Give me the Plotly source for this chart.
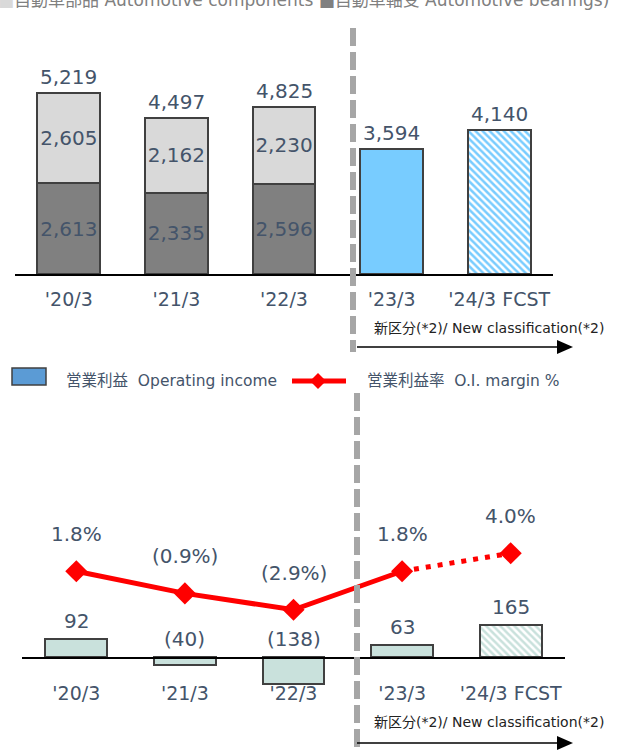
import plotly.graph_objects as go

# ---------------- data ----------------
categories = ["'20/3", "'21/3", "'22/3", "'23/3", "'24/3 FCST"]
bearings = [2613, 2335, 2596, None, None]          # 自動車軸受 Automotive bearings
components = [2605, 2162, 2230, None, None]        # 自動車部品 Automotive components
new_class = [None, None, None, 3594, 4140]         # 新区分 New classification
sales_totals = [5219, 4497, 4825, 3594, 4140]
op_income = [92, -40, -138, 63, 165]
oi_margin = [1.8, -0.9, -2.9, 1.8, 4.0]

W, H = 632, 750
SLATE = "#44546a"
FONT = "DejaVu Sans, Noto Sans CJK JP"


def px(x):
    return x / W


def py(y):
    return 1 - y / H


def fmt_num(v):
    return f"{v:,}" if v >= 0 else f"({abs(v):,})"


def fmt_pct(v):
    return f"{v:.1f}%" if v >= 0 else f"({abs(v):.1f}%)"


fig = go.Figure()

# ---------------- top chart ----------------
bar_line = dict(color="#404040", width=2)
fig.add_trace(go.Bar(
    x=categories, y=bearings, width=0.585,
    marker=dict(color="#808080", line=bar_line),
    texttemplate="%{y:,}", textposition="inside", insidetextanchor="middle",
    constraintext="none", textangle=0,
    textfont=dict(size=20, color=SLATE, family=FONT),
    xaxis="x", yaxis="y", hoverinfo="skip"))
fig.add_trace(go.Bar(
    x=categories, y=components, width=0.585,
    marker=dict(color="#d9d9d9", line=bar_line),
    texttemplate="%{y:,}", textposition="inside", insidetextanchor="middle",
    constraintext="none", textangle=0,
    textfont=dict(size=20, color=SLATE, family=FONT),
    xaxis="x", yaxis="y", hoverinfo="skip"))
fig.add_trace(go.Bar(
    x=categories, y=new_class, width=0.585,
    marker=dict(color="#78ccff", line=bar_line,
                pattern=dict(shape=["", "", "", "", "\\"], fgcolor="#78ccff",
                             bgcolor="white", size=5, solidity=0.5, fillmode="replace")),
    xaxis="x", yaxis="y", hoverinfo="skip"))

annotations = []
for c, t in zip(categories, sales_totals):
    annotations.append(dict(x=c, y=t, xref="x", yref="y", text=f"{t:,}", showarrow=False,
                            yshift=16, yanchor="middle",
                            font=dict(size=20, color=SLATE, family=FONT)))

# ---------------- bottom chart ----------------
fig.add_trace(go.Bar(
    x=categories, y=op_income, width=0.57,
    marker=dict(color="#c9e1dc", line=bar_line,
                pattern=dict(shape=["", "", "", "", "\\"], fgcolor="#c9e1dc",
                             bgcolor="white", size=5, solidity=0.5, fillmode="replace")),
    xaxis="x2", yaxis="y2", hoverinfo="skip"))

for c, v in zip(categories, op_income):
    annotations.append(dict(x=c, y=max(v, 0), xref="x2", yref="y2", text=fmt_num(v),
                            showarrow=False, yshift=18, yanchor="middle",
                            font=dict(size=20, color=SLATE, family=FONT)))

fig.add_trace(go.Scatter(
    x=categories[:4], y=oi_margin[:4], mode="lines",
    line=dict(color="#ff0000", width=5),
    xaxis="x2", yaxis="y3", hoverinfo="skip"))
fig.add_trace(go.Scatter(
    x=categories[3:], y=oi_margin[3:], mode="lines",
    line=dict(color="#ff0000", width=5, dash="5px,7px"),
    xaxis="x2", yaxis="y3", hoverinfo="skip"))
fig.add_trace(go.Scatter(
    x=categories, y=oi_margin, mode="markers",
    marker=dict(symbol="diamond", size=17, color="#ff0000"),
    xaxis="x2", yaxis="y3", hoverinfo="skip"))

for c, v in zip(categories, oi_margin):
    annotations.append(dict(x=c, y=v, xref="x2", yref="y3", text=fmt_pct(v),
                            showarrow=False, yshift=37, yanchor="middle",
                            font=dict(size=20, color=SLATE, family=FONT)))

# ---------------- legends / notes ----------------
annotations.append(dict(
    x=px(-4), y=py(0), xref="paper", yref="paper", xanchor="left", yanchor="middle",
    showarrow=False,
    text="<span style='color:#d9d9d9'>■</span>自動車部品 Automotive components "
         "<span style='color:#808080'>■</span>自動車軸受 Automotive bearings)",
    font=dict(size=17, color="#808080", family=FONT)))

annotations.append(dict(
    x=px(64), y=py(381), xref="paper", yref="paper", xanchor="left", yanchor="middle",
    showarrow=False, text="営業利益  Operating income",
    font=dict(size=15.5, color=SLATE, family=FONT)))
annotations.append(dict(
    x=px(365), y=py(381), xref="paper", yref="paper", xanchor="left", yanchor="middle",
    showarrow=False, text="営業利益率  O.I. margin %",
    font=dict(size=15.5, color=SLATE, family=FONT)))

for yy in (328, 722):
    annotations.append(dict(
        x=px(372), y=py(yy), xref="paper", yref="paper", xanchor="left", yanchor="middle",
        showarrow=False, text="新区分(*2)/ New classification(*2)",
        font=dict(size=14, color="#222222", family=FONT)))

shapes = []
# dashed separators
shapes.append(dict(type="line", xref="paper", yref="paper", x0=px(353), x1=px(353),
                   y0=py(28), y1=py(352), layer="above",
                   line=dict(color="#a6a6a6", width=6, dash="18px,6px")))
shapes.append(dict(type="line", xref="paper", yref="paper", x0=px(357), x1=px(357),
                   y0=py(393), y1=py(755), layer="above",
                   line=dict(color="#a6a6a6", width=6, dash="18px,6px")))
# arrows
for ay in (347, 743):
    shapes.append(dict(type="line", xref="paper", yref="paper", x0=px(357), x1=px(560),
                       y0=py(ay), y1=py(ay), line=dict(color="#000000", width=1.5)))
    shapes.append(dict(type="path", xref="paper", yref="paper",
                       path=f"M {px(557)},{py(ay - 7)} L {px(573)},{py(ay)} L {px(557)},{py(ay + 7)} Z",
                       fillcolor="#000000", line=dict(width=0)))
# bottom legend symbols
shapes.append(dict(type="rect", xref="paper", yref="paper", x0=px(12), x1=px(46),
                   y0=py(385), y1=py(368), fillcolor="#5b9bd5",
                   line=dict(color="#404040", width=1.5)))
shapes.append(dict(type="line", xref="paper", yref="paper", x0=px(292), x1=px(346),
                   y0=py(381), y1=py(381), line=dict(color="#ff0000", width=5)))
shapes.append(dict(type="path", xref="paper", yref="paper",
                   path=f"M {px(310)},{py(381)} L {px(318)},{py(373)} L {px(326)},{py(381)} L {px(318)},{py(389)} Z",
                   fillcolor="#ff0000", line=dict(width=0)))

fig.update_layout(
    width=W, height=H, margin=dict(l=0, r=0, t=0, b=0),
    paper_bgcolor="white", plot_bgcolor="white", showlegend=False,
    barmode="stack", bargap=0.4, hovermode=False,
    font=dict(family=FONT, color=SLATE),
    xaxis=dict(domain=[px(15), px(553)], anchor="y", type="category",
               categoryorder="array", categoryarray=categories,
               showline=True, linecolor="#000000", linewidth=1.5,
               showgrid=False, zeroline=False, ticks="", ticklabelstandoff=8,
               tickfont=dict(size=19, color=SLATE, family=FONT), fixedrange=True),
    yaxis=dict(domain=[py(274), py(31.1)], range=[0, 7000], visible=False, fixedrange=True),
    xaxis2=dict(domain=[px(22), px(565)], anchor="free", position=py(657), type="category",
                categoryorder="array", categoryarray=categories,
                showline=True, linecolor="#000000", linewidth=1.5,
                showgrid=False, zeroline=False, ticks="", ticklabelstandoff=19,
                tickfont=dict(size=19, color=SLATE, family=FONT), fixedrange=True),
    yaxis2=dict(domain=[py(740), py(480)], range=[-425.6, 907.7], visible=False,
                anchor="x2", fixedrange=True),
    yaxis3=dict(domain=[py(740), py(480)], range=[-18.78, 12.93], visible=False,
                anchor="x2", overlaying="y2", fixedrange=True),
    annotations=annotations, shapes=shapes,
)

fig.write_html(
    "out.html",
    config={"displayModeBar": False, "staticPlot": True},
    post_script="document.body.style.margin='0px';document.body.style.overflow='hidden';",
)
